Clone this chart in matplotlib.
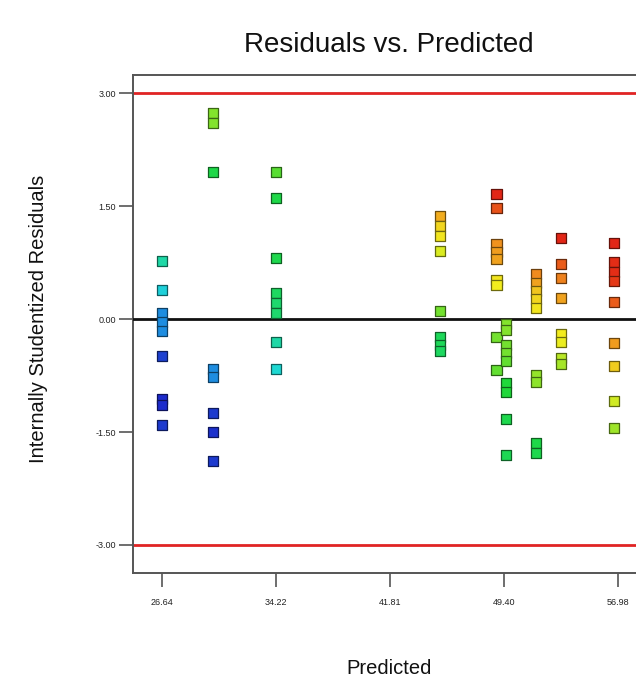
import numpy as np
import matplotlib
matplotlib.use("Agg")
import matplotlib.pyplot as plt
from matplotlib.colors import LinearSegmentedColormap, to_rgb

plt.rcParams["font.family"] = ["Liberation Sans", "DejaVu Sans"]

# Predicted value of each group of runs.
predicted = [26.64, 30.03, 34.22, 45.11, 48.90, 49.50, 51.54, 53.20, 56.69]

# Internally studentized residuals of the runs in each group.
residuals = [
    [0.77, 0.39, 0.08, -0.04, -0.16, -0.49, -1.06, -1.14, -1.41],
    [2.73, 2.60, 1.95, -0.66, -0.77, -1.25, -1.50, -1.89],
    [1.95, 1.60, 0.81, 0.35, 0.21, 0.08, -0.31, -0.66],
    [1.37, 1.24, 1.10, 0.90, 0.11, -0.24, -0.35, -0.43],
    [1.66, 1.48, 1.00, 0.89, 0.80, 0.52, 0.45, -0.24, -0.68],
    [-0.07, -0.15, -0.35, -0.45, -0.56, -0.85, -0.97, -1.33, -1.81],
    [0.60, 0.48, 0.37, 0.26, 0.14, -0.74, -0.84, -1.65, -1.78],
    [1.08, 0.73, 0.54, 0.28, -0.20, -0.30, -0.52, -0.60],
    [1.01, 0.76, 0.62, 0.50, 0.23, -0.32, -0.62, -1.09, -1.45],
]

# Colour scale value of each run (0 = low, 1 = high).
levels = [
    [0.33, 0.24, 0.15, 0.15, 0.15, 0.05, 0.02, 0.02, 0.04],
    [0.62, 0.62, 0.48, 0.15, 0.15, 0.04, 0.03, 0.04],
    [0.57, 0.48, 0.47, 0.44, 0.42, 0.42, 0.33, 0.26],
    [0.83, 0.78, 0.76, 0.72, 0.60, 0.45, 0.45, 0.44],
    [0.98, 0.93, 0.86, 0.85, 0.84, 0.76, 0.75, 0.60, 0.58],
    [0.62, 0.62, 0.60, 0.60, 0.58, 0.50, 0.50, 0.47, 0.46],
    [0.87, 0.84, 0.80, 0.78, 0.76, 0.64, 0.63, 0.48, 0.47],
    [0.98, 0.92, 0.88, 0.84, 0.75, 0.74, 0.68, 0.66],
    [0.98, 0.97, 0.97, 0.96, 0.92, 0.85, 0.79, 0.71, 0.65],
]

x_ticks = [26.64, 34.22, 41.81, 49.40, 56.98]
y_ticks = [-3.00, -1.50, 0.00, 1.50, 3.00]
limit = 3.00

# Hue ramp from blue through green and yellow to red.
ramp = LinearSegmentedColormap.from_list("ramp", [
    (0.00, "#1c1cc8"), (0.15, "#1e8ee0"), (0.25, "#1ed8d8"),
    (0.50, "#1ed83a"), (0.75, "#f2ee1e"), (0.87, "#f08c1e"),
    (1.00, "#e01414"),
])

x = np.concatenate([[p] * len(r) for p, r in zip(predicted, residuals)])
y = np.concatenate(residuals)
lv = np.concatenate(levels)

fig = plt.figure(figsize=(6.36, 6.82), dpi=100)
ax = fig.add_axes([0.2091, 0.1598, 0.805, 0.7302])

faces = ramp(lv)
edges = np.array([[c * 0.45 for c in to_rgb(f)] for f in faces])
ax.scatter(x, y, s=52, marker="s", c=faces,
           edgecolors=edges, linewidths=0.9, zorder=4)

ax.axhline(limit, color="#e02424", linewidth=2.0, zorder=2)
ax.axhline(-limit, color="#e02424", linewidth=2.0, zorder=2)
ax.axhline(0, color="#111111", linewidth=2.0, zorder=3)

ax.set_xlim(24.71, 58.78)
ax.set_ylim(-3.372, 3.239)
ax.set_xticks(x_ticks)
ax.set_xticklabels([f"{v:.2f}" for v in x_ticks])
ax.set_yticks(y_ticks)
ax.set_yticklabels([f"{v:.2f}" for v in y_ticks])
ax.tick_params(axis="both", direction="out", length=10, width=1.2,
               color="#555555", labelsize=6.5, labelcolor="#222222")
ax.tick_params(axis="x", pad=8)
ax.tick_params(axis="y", pad=2)

for side in ("left", "bottom", "top"):
    ax.spines[side].set_color("#555555")
    ax.spines[side].set_linewidth(1.4)
ax.spines["right"].set_visible(False)

fig.text(0.611, 0.934, "Residuals vs. Predicted", fontsize=20,
         ha="center", va="center", color="#111111")
fig.text(0.060, 0.532, "Internally Studentized Residuals", fontsize=14.5,
         rotation=90, ha="center", va="center", color="#111111")
fig.text(0.611, 0.020, "Predicted", fontsize=14.5,
         ha="center", va="center", color="#111111")

fig.savefig("out.png", dpi=100)
